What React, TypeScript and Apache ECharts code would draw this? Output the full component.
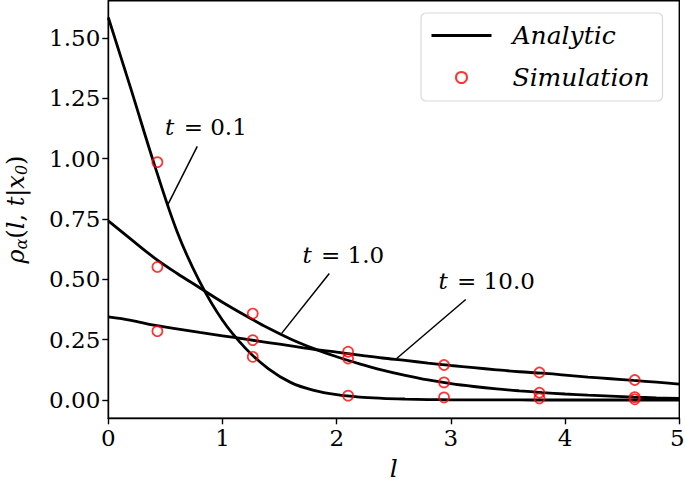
import React, { useEffect, useRef } from 'react';
import * as echarts from 'echarts';

// Sample positions along l for the analytic curves
const lValues = [0, 0.2, 0.4, 0.6, 0.8, 1.0, 1.2, 1.4, 1.6, 1.8, 2.0, 2.2, 2.4, 2.6, 2.8, 3.0, 3.2, 3.4, 3.6, 3.8, 4.0, 4.2, 4.4, 4.6, 4.8, 5.0];
const analyticT01 = [1.584, 1.285, 0.98, 0.70, 0.49, 0.33, 0.215, 0.13, 0.072, 0.04, 0.022, 0.012, 0.007, 0.004, 0.002, 0.001, 0.0005, 0.0003, 0.0002, 0.0001, 0, 0, 0, 0, 0, 0];
const analyticT1 = [0.742, 0.665, 0.59, 0.525, 0.465, 0.405, 0.35, 0.298, 0.252, 0.213, 0.179, 0.15, 0.124, 0.102, 0.083, 0.068, 0.056, 0.046, 0.038, 0.031, 0.025, 0.02, 0.016, 0.012, 0.009, 0.007];
const analyticT10 = [0.344, 0.33, 0.31, 0.295, 0.28, 0.266, 0.252, 0.238, 0.224, 0.21, 0.198, 0.186, 0.174, 0.164, 0.153, 0.143, 0.134, 0.125, 0.117, 0.111, 0.103, 0.095, 0.088, 0.081, 0.074, 0.066];

// Simulation points
const simL = [0.43, 1.265, 2.10, 2.94, 3.775, 4.61];
const simT01 = [0.985, 0.179, 0.018, 0.011, 0.007, 0.003];
const simT1 = [0.551, 0.358, 0.172, 0.073, 0.03, 0.012];
const simT10 = [0.285, 0.248, 0.200, 0.145, 0.114, 0.083];

const xTicks = [0, 1, 2, 3, 4, 5];
const yTicks = [0, 0.25, 0.5, 0.75, 1.0, 1.25, 1.5];

// Annotations (data coordinates)
const annotValues = ['0.1', '1.0', '10.0'];
const annotTextPos = [[0.855, 1.129], [2.058, 0.599], [3.313, 0.494]];
const annotLineFrom = [[0.779, 1.05], [1.935, 0.524], [3.13, 0.416]];
const annotLineTo = [[0.517, 0.805], [1.518, 0.276], [2.525, 0.172]];

const FONT = 'DejaVu Serif';

function pairs(xs: number[], ys: number[]) {
  return xs.map((x, i) => [x, ys[i]]);
}

export default function App() {
  const ref = useRef<HTMLDivElement>(null);
  useEffect(() => {
    if (!ref.current) return;
    const chart = echarts.init(ref.current, null, { renderer: 'svg' });
    const lineSeries = (data: number[]) => ({
      type: 'line',
      name: 'Analytic',
      data: pairs(lValues, data),
      symbol: 'none',
      smooth: 0.35,
      lineStyle: { color: '#000', width: 2.8 },
      itemStyle: { color: '#000' },
      z: 2,
    });
    const scatterSeries = (data: number[]) => ({
      type: 'scatter',
      name: 'Simulation',
      data: pairs(simL, data),
      symbol: 'circle',
      symbolSize: 10,
      itemStyle: { color: 'rgba(255,255,255,0)', borderColor: '#ff0000', borderWidth: 1.7 },
      z: 3,
    });
    const maxX = xTicks[xTicks.length - 1];
    chart.setOption({
      animation: false,
      backgroundColor: '#fff',
      grid: {
        left: 108.3,
        right: 5.7,
        top: 0.8,
        bottom: 63.7,
        show: true,
        borderColor: '#000',
        borderWidth: 1.4,
        backgroundColor: 'rgba(0,0,0,0)',
        containLabel: false,
        outerBoundsMode: 'none',
      },
      xAxis: {
        type: 'value',
        min: 0,
        max: 5,
        interval: 1,
        axisLine: { show: true, onZero: false, lineStyle: { color: '#000', width: 1.4 } },
        axisTick: { show: true, length: 6, lineStyle: { color: '#000', width: 1.4 } },
        axisLabel: {
          color: '#000',
          fontFamily: FONT,
          fontSize: 23,
          margin: 8,
          customValues: xTicks,
          formatter: (v: number) => (v === maxX ? '{r|' + v + '}' : String(v)),
          rich: {
            r: { fontFamily: FONT, fontSize: 23, color: '#000', padding: [0, 4, 0, 0] },
          },
        },
        splitLine: { show: false },
        name: 'l',
        nameLocation: 'middle',
        nameGap: 41,
        nameTextStyle: { color: '#000', fontFamily: FONT, fontStyle: 'italic', fontSize: 25, lineHeight: 18 },
      },
      yAxis: {
        type: 'value',
        min: -0.0757,
        max: 1.653,
        axisLine: { show: true, onZero: false, lineStyle: { color: '#000', width: 1.4 } },
        axisTick: { show: true, length: 6, customValues: yTicks, lineStyle: { color: '#000', width: 1.4 } },
        axisLabel: {
          color: '#000',
          fontFamily: FONT,
          fontSize: 23,
          margin: 8,
          customValues: yTicks,
          formatter: (v: number) => v.toFixed(2),
        },
        splitLine: { show: false },
        name: '{m|ρ}{s|α}{n|(}{m|l}{n|, }{m|t}{n||}{m|x}{s|0}{n|)}',
        nameLocation: 'middle',
        nameGap: 79,
        nameTextStyle: {
          color: '#000',
          fontFamily: FONT,
          fontSize: 24,
          rich: {
            m: { fontFamily: FONT, fontStyle: 'italic', fontSize: 24, color: '#000' },
            n: { fontFamily: FONT, fontSize: 24, color: '#000' },
            s: { fontFamily: FONT, fontStyle: 'italic', fontSize: 16, color: '#000', padding: [10, 0, 0, 0] },
          },
        },
      },
      legend: {
        data: [
          { name: 'Analytic', itemStyle: { color: 'rgba(0,0,0,0)', borderWidth: 0, opacity: 0 }, lineStyle: { color: '#000', width: 3 } },
          { name: 'Simulation', icon: 'circle' },
        ],
        orient: 'vertical',
        left: 421,
        top: 13,
        itemWidth: 60,
        itemHeight: 11,
        itemGap: 17,
        padding: [10, 13, 11, 9],
        borderColor: '#d9d9d9',
        borderWidth: 1.2,
        borderRadius: 5,
        backgroundColor: 'rgba(255,255,255,0.8)',
        formatter: (name: string) => '{a|' + name + '}',
        textStyle: {
          rich: {
            a: {
              fontFamily: FONT,
              fontStyle: 'italic',
              fontSize: 25,
              lineHeight: 26,
              color: '#000',
              padding: [0, 0, 0, 16],
            },
          },
        },
      },
      series: [
        lineSeries(analyticT01),
        lineSeries(analyticT1),
        lineSeries(analyticT10),
        scatterSeries(simT01),
        scatterSeries(simT1),
        scatterSeries(simT10),
      ],
    });

    const graphics: any[] = [];
    annotValues.forEach((val, i) => {
      const p = chart.convertToPixel({ gridIndex: 0 }, annotTextPos[i]) as number[];
      const a = chart.convertToPixel({ gridIndex: 0 }, annotLineFrom[i]) as number[];
      const b = chart.convertToPixel({ gridIndex: 0 }, annotLineTo[i]) as number[];
      graphics.push({
        type: 'line',
        shape: { x1: a[0], y1: a[1], x2: b[0], y2: b[1] },
        style: { stroke: '#000', lineWidth: 1.5 },
        z: 10,
      });
      graphics.push({
        type: 'text',
        x: p[0],
        y: p[1],
        style: {
          text: '{i|t}{n| = ' + val + '}',
          align: 'center',
          verticalAlign: 'middle',
          rich: {
            i: { fontFamily: FONT, fontStyle: 'italic', fontSize: 23, fill: '#000', padding: [0, 2, 0, 0] },
            n: { fontFamily: FONT, fontSize: 23, fill: '#000' },
          },
        },
        z: 10,
      });
    });
    chart.setOption({ graphic: graphics });

    return () => chart.dispose();
  }, []);
  return <div ref={ref} style={{ position: 'fixed', left: 0, top: 0, width: 685, height: 482 }} />;
}
